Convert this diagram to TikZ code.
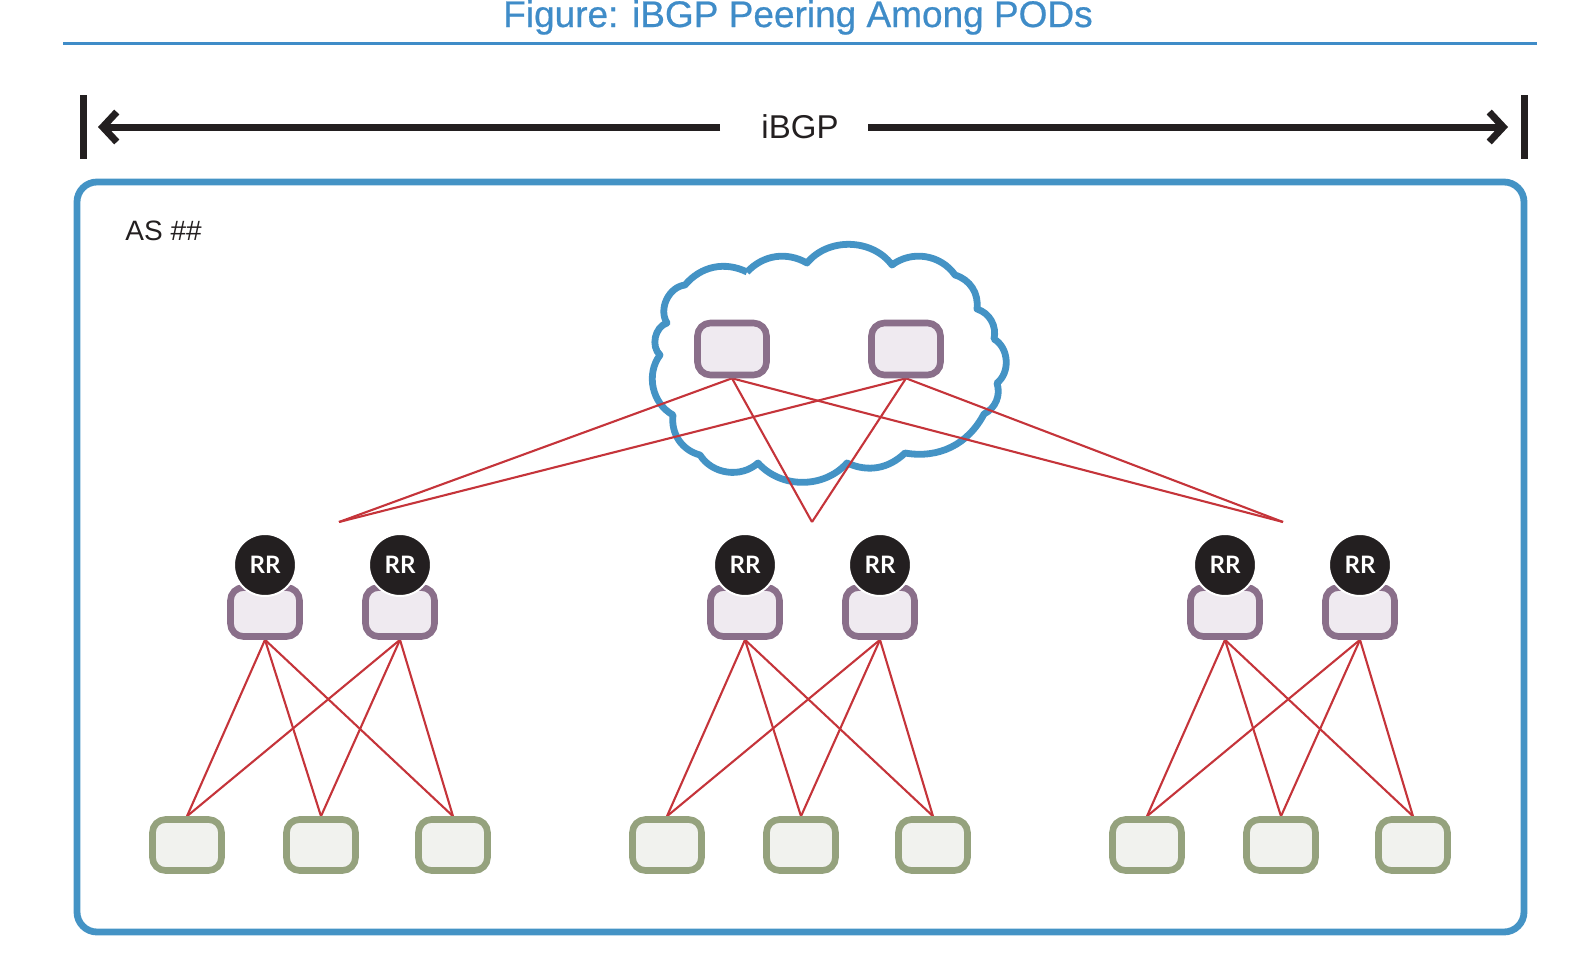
\documentclass[tikz,border=0pt]{standalone}
\usepackage{fontspec}
\setmainfont{Liberation Sans}
\newfontfamily\titlefont[FakeBold=0.6]{Liberation Sans}
\newfontfamily\rrfont{Lato}
\usetikzlibrary{arrows.meta}
\definecolor{bluec}{HTML}{4493C5}
\definecolor{titleblue}{HTML}{3F8CC8}
\definecolor{inkc}{HTML}{231F20}
\definecolor{purpc}{HTML}{8A6F8A}
\definecolor{purpfill}{HTML}{EFEAF0}
\definecolor{greenc}{HTML}{95A27D}
\definecolor{greenfill}{HTML}{F1F2EE}
\definecolor{redc}{HTML}{C5343A}
\pgfdeclarelayer{bgcloud}
\pgfdeclarelayer{bglines}
\pgfsetlayers{bgcloud,bglines,main}
\begin{document}
\begin{tikzpicture}[x=0.5pt,y=-0.5pt,
  titletext/.style={font=\titlefont\fontsize{18.5}{20}\selectfont, text=titleblue, inner sep=0pt},
  titlerule/.style={draw=titleblue, line width=1.5pt},
  barline/.style={draw=inkc, line width=3.5pt},
  bgparrow/.style={draw=inkc, line width=3.5pt, -{Straight Barb[length=7pt,width=15pt]}},
  labeltext/.style={text=inkc, inner sep=0pt},
  framebox/.style={draw=bluec, line width=3.4pt, rounded corners=10pt},
  cloudline/.style={draw=bluec, line width=3.4pt, line join=round},
  spinebox/.style={draw=purpc, fill=purpfill, line width=3.3pt, rounded corners=6.5pt, minimum width=34.5pt, minimum height=26pt, inner sep=0pt},
  rrbox/.style={draw=purpc, fill=purpfill, line width=3.3pt, rounded corners=6.5pt, minimum width=34.5pt, minimum height=24.5pt, inner sep=0pt},
  leafbox/.style={draw=greenc, fill=greenfill, line width=3.3pt, rounded corners=6.5pt, minimum width=34.5pt, minimum height=25.5pt, inner sep=0pt},
  rrmark/.style={circle, fill=inkc, draw=white, line width=1pt, minimum size=31pt, inner sep=0pt, text=white, font=\rrfont\bfseries\fontsize{12}{13}\selectfont},
  redline/.style={draw=redc, line width=1.05pt}
]
\useasboundingbox (0,0) rectangle (1586,964);

% title
\node[titletext, anchor=base] (title) at (798,27) {Figure: iBGP Peering Among PODs};
\coordinate (ruleL) at (63,43);
\coordinate (ruleR) at (1537,43);
\draw[titlerule] (ruleL) -- (ruleR);

% iBGP span
\coordinate (barLt) at (83,95);  \coordinate (barLb) at (83,159);
\coordinate (barRt) at (1524,95); \coordinate (barRb) at (1524,159);
\draw[barline] (barLt) -- (barLb);
\draw[barline] (barRt) -- (barRb);
\node[labeltext, font=\fontsize{16.5}{18}\selectfont] (ibgp) at (800,127) {iBGP};
\coordinate (arrLs) at (720,127); \coordinate (arrLe) at (98,127);
\coordinate (arrRs) at (868,127); \coordinate (arrRe) at (1508,127);
\draw[bgparrow] (arrLs) -- (arrLe);
\draw[bgparrow] (arrRs) -- (arrRe);

% AS frame
\begin{pgfonlayer}{bgcloud}
\draw[framebox] (77,182) rectangle (1524,932);
\end{pgfonlayer}
\node[labeltext, anchor=west, font=\fontsize{14}{16}\selectfont] (as) at (125,231) {AS \#\#};

% cloud
\begin{pgfonlayer}{bgcloud}
\draw[cloudline] (747,272) to[bend left=38] (807,263) to[bend left=52] (892,265)
  to[bend left=46] (955,275) to[bend left=40] (977,309) to[bend left=42] (994,339)
  to[bend left=56] (997,383) to[bend left=40] (984,414) to[bend left=36] (905,453)
  to[bend left=34] (847,463) to[bend left=48] (758,463) to[bend left=50] (700,455)
  to[bend left=41] (673,415) to[bend left=49] (660,355) to[bend left=60] (667,323)
  to[bend left=58] (685,285) to[bend left=38] (747,272);
\end{pgfonlayer}

% spines
\node[spinebox] (s1) at (732,349) {};
\node[spinebox] (s2) at (906,349) {};
\coordinate (t1) at (339,522);
\coordinate (t2) at (812,522);
\coordinate (t3) at (1283,522);
\begin{pgfonlayer}{bglines}
\foreach \s in {s1,s2}{
  \foreach \t in {t1,t2,t3}{
    \draw[redline] (\s.south) -- (\t);
  }
}
\end{pgfonlayer}

% pods
\foreach \p/\dx in {1/0,2/480,3/960}{
  \node[rrbox] (r\p-a) at ({265+\dx},612) {};
  \node[rrbox] (r\p-b) at ({400+\dx},612) {};
  \node[rrmark] (m\p-a) at ({265+\dx},565) {RR};
  \node[rrmark] (m\p-b) at ({400+\dx},565) {RR};
  \node[leafbox] (l\p-a) at ({187+\dx},845) {};
  \node[leafbox] (l\p-b) at ({321+\dx},845) {};
  \node[leafbox] (l\p-c) at ({453+\dx},845) {};
  \begin{pgfonlayer}{bglines}
  \foreach \r in {a,b}{
    \foreach \l in {a,b,c}{
      \draw[redline] (r\p-\r.south) -- (l\p-\l.north);
    }
  }
  \end{pgfonlayer}
}
\end{tikzpicture}
\end{document}
